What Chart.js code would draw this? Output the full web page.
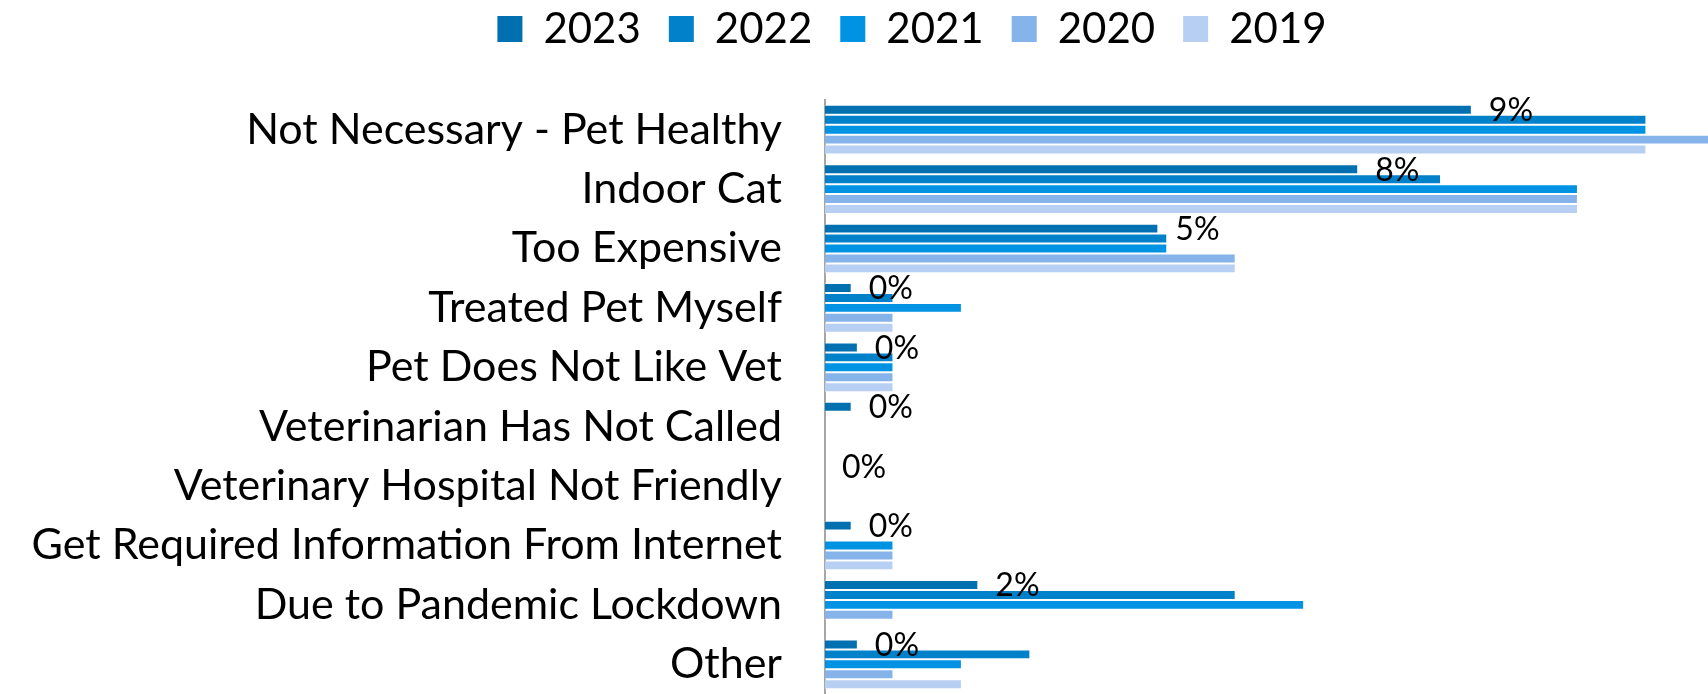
<!DOCTYPE html>
<html>
<head>
<meta charset="utf-8">
<script src="https://cdn.jsdelivr.net/npm/chart.js@4/dist/chart.umd.min.js"></script>
<style>
  html, body { margin: 0; padding: 0; background: #fff; }
  #wrap { position: relative; width: 1708px; height: 694px; }
</style>
</head>
<body>
<div id="wrap"><canvas id="chart"></canvas></div>
<script>
// Reasons given for not visiting the vet, share of respondents (%) per survey year
const categories = [
  'Not Necessary - Pet Healthy',
  'Indoor Cat',
  'Too Expensive',
  'Treated Pet Myself',
  'Pet Does Not Like Vet',
  'Veterinarian Has Not Called',
  'Veterinary Hospital Not Friendly',
  'Get Required Information From Internet',
  'Due to Pandemic Lockdown',
  'Other'
];
const years = ['2023', '2022', '2021', '2020', '2019'];

const share2023 = [9.45, 7.79, 4.87, 0.39, 0.48, 0.39, 0, 0.39, 2.24, 0.48];
const share2022 = [12, 9, 5, 1, 1, 0, 0, 0, 6, 3];
const share2021 = [12, 11, 5, 2, 1, 0, 0, 1, 7, 2];
const share2020 = [13, 11, 6, 1, 1, 0, 0, 1, 1, 1];
const share2019 = [12, 11, 6, 1, 1, 0, 0, 1, 0, 2];

const yearColors = ['#0070B0', '#0081C9', '#0093E3', '#86B3EA', '#B7CFF2'];
const seriesValues = [share2023, share2022, share2021, share2020, share2019];

const FONT = 'Lato';

// Plain glyphs (no "ti"/"fi" ligatures) for every label on the canvas
const plainText = {
  id: 'plainText',
  beforeInit(chart) {
    if ('textRendering' in chart.ctx) chart.ctx.textRendering = 'optimizeSpeed';
  }
};

// Percentage labels at the end of the 2023 bars
const barValueLabels = {
  id: 'barValueLabels',
  afterDatasetsDraw(chart) {
    const meta = chart.getDatasetMeta(0);
    const values = chart.data.datasets[0].data;
    const ctx = chart.ctx;
    ctx.save();
    ctx.font = '32px ' + FONT;
    ctx.fillStyle = '#000';
    ctx.textAlign = 'left';
    ctx.textBaseline = 'middle';
    meta.data.forEach((bar, i) => {
      ctx.fillText(Math.round(values[i]) + '%', bar.x + 17, bar.y + 1);
    });
    ctx.restore();
  }
};

// Legend row: extra room below it, and centred over the right-hand part of the chart
const legendPlacement = {
  id: 'legendPlacement',
  beforeInit(chart) {
    const fit = chart.legend.fit;
    chart.legend.fit = function () {
      fit.call(this);
      this.height += 40;
    };
  },
  afterLayout(chart) {
    chart.legend.left += 116;
  }
};

function draw() {
  new Chart(document.getElementById('chart'), {
    type: 'bar',
    data: {
      labels: categories,
      datasets: years.map((y, i) => ({
        label: y,
        data: seriesValues[i],
        backgroundColor: yearColors[i],
        borderColor: 'rgba(255,255,255,0.6)',
        borderWidth: 1,
        barPercentage: 1,
        categoryPercentage: 0.836
      }))
    },
    options: {
      indexAxis: 'y',
      responsive: true,
      maintainAspectRatio: false,
      animation: false,
      layout: { padding: { left: 0, top: -20, right: 0, bottom: -4 } },
      scales: {
        x: { type: 'linear', min: 0, max: 12.9, display: false },
        y: {
          type: 'category',
          grid: { display: false },
          border: { display: true, color: '#A6A6A6', width: 2 },
          ticks: { color: '#000', font: { family: FONT, size: 43 }, padding: 35 },
          afterFit(scale) {
            scale.width = 825;
            scale.paddingTop = 0;
            scale.paddingBottom = 0;
          }
        }
      },
      plugins: {
        tooltip: { enabled: false },
        legend: {
          position: 'top',
          labels: {
            color: '#000',
            font: { family: FONT, size: 42 },
            boxWidth: 25,
            boxHeight: 26,
            padding: 28,
            generateLabels(chart) {
              return Chart.defaults.plugins.legend.labels.generateLabels(chart)
                .map(item => Object.assign(item, { lineWidth: 0 }));
            }
          }
        }
      }
    },
    plugins: [plainText, barValueLabels, legendPlacement]
  });
}

if (document.fonts && document.fonts.load) {
  Promise.all([document.fonts.load('43px ' + FONT), document.fonts.load('32px ' + FONT)])
    .then(draw, draw);
} else {
  draw();
}
</script>
</body>
</html>
